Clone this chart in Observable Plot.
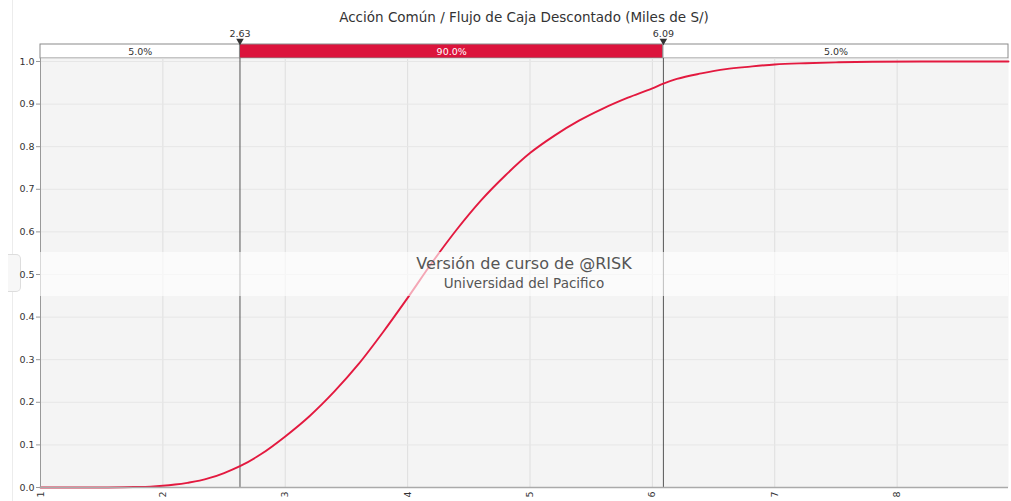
<!DOCTYPE html>
<html>
<head>
<meta charset="utf-8">
<script src="https://cdn.jsdelivr.net/npm/d3@7"></script>
<script src="https://cdn.jsdelivr.net/npm/@observablehq/plot@0.6"></script>
<style>
  html, body { margin: 0; padding: 0; background: #fff; }
  #chart { position: relative; width: 1011px; height: 501px; overflow: hidden; font-family: "DejaVu Sans", Verdana, sans-serif; }
  #title { position: absolute; left: 40px; width: 968px; top: 9px; text-align: center; font-size: 13.5px; color: #333; }
  #band { position: absolute; left: 0; top: 28px; }
  #main { position: absolute; left: 0; top: 58px; }
  #stamp { position: absolute; left: 40px; width: 968px; top: 252px; height: 44px; background: rgba(255,255,255,0.62); text-align: center; color: #555; }
  #stamp .l1 { font-size: 16px; margin-top: 2px; line-height: 20px; }
  #stamp .l2 { font-size: 13.5px; line-height: 18px; }
  #divider { position: absolute; left: 12px; top: 0; width: 1px; height: 501px; background: #ececec; }
  #grip { position: absolute; left: 8px; top: 254px; width: 12px; height: 36px; border: 1px solid #ddd; border-left: none; border-radius: 0 5px 5px 0; background: #f7f7f7; }
</style>
</head>
<body>
<div id="chart">
  <div id="divider"></div>
  <div id="grip"></div>
  <div id="title"></div>
  <div id="band"></div>
  <div id="main"></div>
  <div id="stamp"><div class="l1">Versión de curso de @RISK</div><div class="l2">Universidad del Pacifico</div></div>
</div>
<script>
// Chart text
const title = "Acción Común / Flujo de Caja Descontado (Miles de S/)";

// Axis ticks
const xTicks = [1, 2, 3, 4, 5, 6, 7, 8];
const yTicks = [0, 0.1, 0.2, 0.3, 0.4, 0.5, 0.6, 0.7, 0.8, 0.9, 1.0];
const xDomain = [1, 8.91];

// Cumulative distribution (value in thousands of S/, cumulative probability)
const cdfValue = [1.0, 1.5, 1.76, 1.9, 2.0, 2.1, 2.2, 2.3, 2.39, 2.5, 2.63, 2.8, 3.0, 3.2, 3.4, 3.6, 3.8, 4.0, 4.2, 4.4, 4.6, 4.8, 5.0, 5.2, 5.4, 5.6, 5.8, 6.0, 6.09, 6.2, 6.4, 6.6, 6.8, 7.0, 7.25, 7.5, 7.8, 8.2, 8.91];
const cdfProb  = [0.0, 0.0, 0.001, 0.002, 0.004, 0.007, 0.011, 0.016, 0.023, 0.034, 0.05, 0.078, 0.12, 0.168, 0.225, 0.29, 0.365, 0.445, 0.528, 0.605, 0.674, 0.733, 0.785, 0.826, 0.861, 0.89, 0.915, 0.937, 0.948, 0.959, 0.972, 0.982, 0.988, 0.993, 0.996, 0.998, 0.9995, 1.0, 1.0];

// Delimiters of the 5% / 90% / 5% bands
const markers = [2.63, 6.09];
const bandLabels = ["5.0%", "90.0%", "5.0%"];
const bandFills = ["#ffffff", "#dc143c", "#ffffff"];
const bandText = ["#333", "#ffffff", "#333"];

const cdf = cdfValue.map((v, i) => ({v, p: cdfProb[i]}));
const edges = [xDomain[0], ...markers, xDomain[1]];
const bands = bandLabels.map((label, i) => ({x1: edges[i], x2: edges[i + 1], label, fill: bandFills[i], color: bandText[i]}));

document.getElementById("title").textContent = title;

const font = {fontFamily: "'DejaVu Sans', Verdana, sans-serif", fontSize: "9.5px", color: "#333", background: "transparent", overflow: "visible"};
const common = {width: 1011, marginLeft: 40, marginRight: 3};

// Percentile band above the plot
const band = Plot.plot({
  ...common,
  height: 30,
  marginTop: 16,
  marginBottom: 0,
  style: font,
  x: {domain: xDomain, axis: null},
  marks: [
    Plot.rect(bands, {x1: "x1", x2: "x2", fill: "fill", stroke: "#8a8a8a", strokeWidth: 1}),
    Plot.text(bands, {x: d => (d.x1 + d.x2) / 2, text: "label", fill: "color", frameAnchor: "middle"}),
    Plot.dot(markers, {x: d => d, symbol: "triangle", rotate: 180, r: 2.8, fill: "#333", frameAnchor: "top", dy: -3.5}),
    Plot.text(markers, {x: d => d, text: d => d3.format(".2f")(d), frameAnchor: "top", lineAnchor: "bottom", dy: -7.5, fill: "#333"})
  ]
});
document.getElementById("band").append(band);

// Cumulative curve
const main = Plot.plot({
  ...common,
  height: 443,
  marginTop: 0,
  marginBottom: 14,
  style: font,
  x: {domain: xDomain, label: null},
  y: {domain: [0, 1.007], label: null},
  marks: [
    Plot.frame({fill: "#f4f4f4", stroke: null}),
    Plot.gridX(xTicks, {stroke: "#dedede", strokeOpacity: 1}),
    Plot.gridY(yTicks, {stroke: "#e6e6e6", strokeOpacity: 1}),
    Plot.ruleX(markers, {stroke: "#555", strokeWidth: 1}),
    Plot.line(cdf, {x: "v", y: "p", stroke: "#e3193f", strokeWidth: 1.9, curve: "monotone-x"}),
    Plot.ruleX([xDomain[0]], {stroke: "#999"}),
    Plot.ruleY([0], {stroke: "#aaa", strokeWidth: 1.5}),
    Plot.axisY(yTicks, {tickFormat: d3.format(".1f"), tickSize: 4, tickPadding: 2, stroke: "#999", fill: "#333"}),
    Plot.axisX(xTicks, {tickFormat: d => String(d), tickRotate: -90, tickSize: 0, tickPadding: 4, fill: "#333"})
  ]
});
document.getElementById("main").append(main);
</script>
</body>
</html>
